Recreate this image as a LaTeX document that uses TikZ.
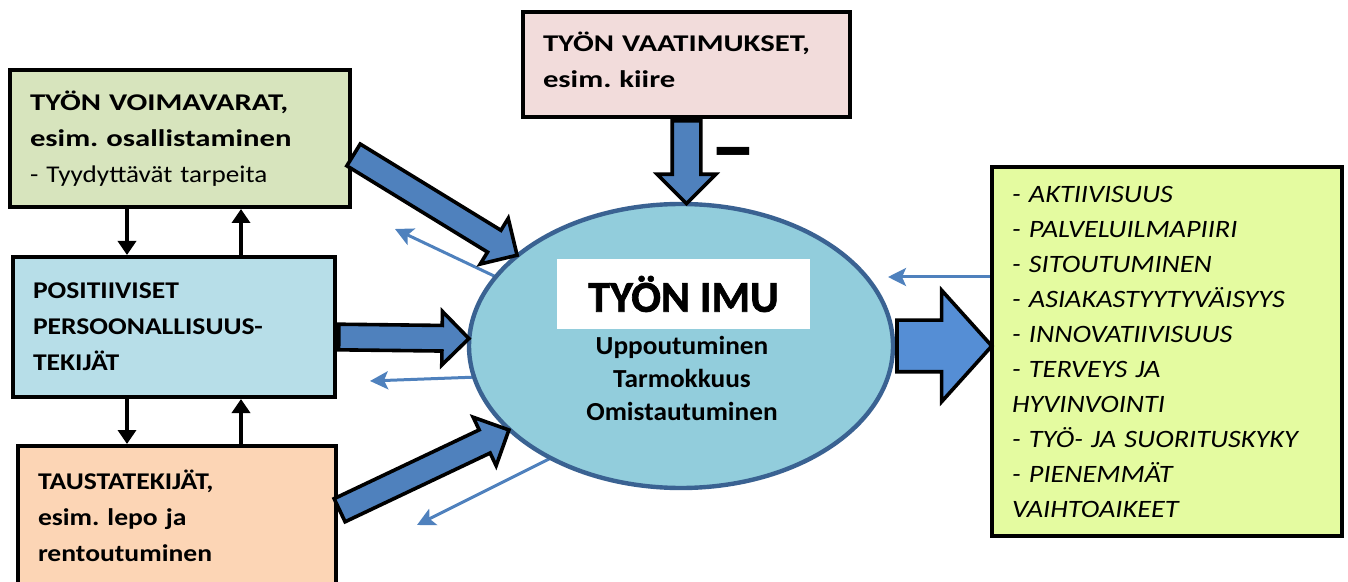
\documentclass[tikz,border=0pt]{standalone}
\usepackage{fontspec}
\setmainfont{Carlito}
\newfontfamily\boxfont[FakeStretch=1.28]{Carlito}
\newfontfamily\narrowfont[FakeStretch=1.15]{Carlito}
\newfontfamily\listfont[FakeStretch=1.13]{Carlito}
\newfontfamily\imutextfont[FakeStretch=1.05]{Carlito}
\newfontfamily\imufont[FakeBold=1.5]{Carlito Bold}
\usetikzlibrary{shapes.geometric,shapes.arrows,arrows.meta,calc}

\definecolor{voimagreen}{HTML}{D7E4BD}
\definecolor{vaatipink}{HTML}{F2DCDB}
\definecolor{persblue}{HTML}{B7DEE8}
\definecolor{taustaorange}{HTML}{FCD5B5}
\definecolor{tuloslime}{HTML}{E4FBA0}
\definecolor{imufill}{HTML}{92CDDC}
\definecolor{imuborder}{HTML}{3A6292}
\definecolor{arrowblue}{HTML}{4F81BD}
\definecolor{bigblue}{HTML}{558ED5}

\tikzset{
  box/.style={rectangle, draw=black, line width=2pt, inner xsep=10pt, align=left,
    font=\boxfont\fontsize{12}{18}\selectfont\bfseries\frenchspacing},
  narrowbox/.style={box, font=\narrowfont\fontsize{12}{18}\selectfont\bfseries\frenchspacing},
  fatarrow/.style={single arrow, draw=black, line width=1.8pt, fill=arrowblue, inner xsep=0pt,
    inner ysep=5.5pt, minimum width=0pt, single arrow head extend=7pt, single arrow tip angle=90},
  thinarrow/.style={draw=arrowblue, line width=1.5pt, -{Stealth[length=9pt,width=9pt,inset=2pt]}},
  boxarrow/.style={line width=2pt, -{Triangle[length=7pt,width=9pt]}}
}
\newcommand{\fatarrow}[3][]{%
  \path let \p1=($(#3)-(#2)$) in
    node[fatarrow,#1,anchor=tail,minimum height={veclen(\x1,\y1)},rotate={atan2(\y1,\x1)}] at (#2) {};}

\begin{document}
\begin{tikzpicture}[x=0.5pt, y=-0.5pt]
  \useasboundingbox (0,0) rectangle (1348,582);

  % boxes
  \node[box, fill=voimagreen, minimum width=170pt, minimum height=68.5pt, text width=150pt] (voima) at (180,138.5)
    {TYÖN VOIMAVARAT,\\ esim. osallistaminen\\ \listfont\mdseries - Tyydyttävät tarpeita};
  \node[box, fill=vaatipink, minimum width=163.5pt, minimum height=52.5pt, text width=143.5pt,
    text depth=23pt] (vaatimus) at (686.5,64.5)
    {TYÖN VAATIMUKSET,\\ esim. kiire};
  \node[narrowbox, fill=persblue, minimum width=161pt, minimum height=70pt, text width=141pt] (persoona) at (174,327)
    {POSITIIVISET\\ PERSOONALLISUUS-\\ TEKIJÄT};
  \node[narrowbox, fill=taustaorange, minimum width=159pt, minimum height=70pt, text width=139pt] (tausta) at (177,516)
    {TAUSTATEKIJÄT,\\ esim. lepo ja\\ rentoutuminen};
  \node[box, fill=tuloslime, font=\listfont\fontsize{12.5}{17.5}\selectfont\itshape, minimum width=175pt,
    minimum height=184.5pt, text width=155pt] (tulos) at (1167,351.5)
    {- AKTIIVISUUS\\ - PALVELUILMAPIIRI\\ - SITOUTUMINEN\\ - ASIAKASTYYTYVÄISYYS\\ - INNOVATIIVISUUS\\
     - TERVEYS JA\\ HYVINVOINTI\\ - TYÖ- JA SUORITUSKYKY\\ - PIENEMMÄT\\ VAIHTOAIKEET};

  % thin feedback arrows (under the ellipse)
  \coordinate (fb1) at (395,229);
  \coordinate (fb2) at (370,381);
  \coordinate (fb3) at (417,525);
  \coordinate (fb4) at (888,277);
  \coordinate (imua) at (681,346);
  \draw[thinarrow] ($(imua)!0.97!(495,277)$) -- (fb1);
  \draw[thinarrow] ($(imua)!0.97!(471,378)$) -- (fb2);
  \draw[thinarrow] ($(imua)!0.97!(552,459)$) -- (fb3);
  \draw[thinarrow] ([yshift=37.25pt]tulos.west) -- (fb4);

  % ellipse
  \node[ellipse, draw=imuborder, line width=2.2pt, fill=imufill, minimum width=212pt, minimum height=142pt] (imu) at (681,346) {};
  \node[fill=white, minimum width=126.5pt, minimum height=35pt, font=\imufont\fontsize{22}{26}\selectfont] (imutitle) at (683.5,294) {TYÖN IMU};
  \node[align=center, font=\imutextfont\bfseries\fontsize{13}{16.5}\selectfont] (imutext) at (682,378) {Uppoutuminen\\ Tarmokkuus\\ Omistautuminen};

  % fat arrows
  \coordinate (voimaout) at ([yshift=-7.75pt]voima.east);
  \coordinate (persout) at ([yshift=-5pt]persoona.east);
  \coordinate (taustaout) at ([yshift=2.5pt]tausta.east);
  \coordinate (imutop) at (vaatimus.south |- imu.north);
  \coordinate (tulosin) at (imu.east -| tulos.west);
  \fatarrow{voimaout}{imu.151}
  \fatarrow{persout}{imu.178}
  \fatarrow{taustaout}{imu.206}
  \fatarrow[inner ysep=6.25pt, single arrow head extend=7.5pt]{vaatimus.south}{imutop}
  \fatarrow[fill=bigblue, inner ysep=12pt, single arrow head extend=15pt, single arrow tip angle=96]{imu.east}{tulosin}
  \node[font=\bfseries\fontsize{46}{46}\selectfont] (minus) at (733,162) {–};

  % small arrows between the boxes
  \coordinate (dn) at (127,0);
  \coordinate (up) at (241,0);
  \draw[boxarrow] (voima.south -| dn) -- (persoona.north -| dn);
  \draw[boxarrow] (persoona.north -| up) -- (voima.south -| up);
  \draw[boxarrow] (persoona.south -| dn) -- (tausta.north -| dn);
  \draw[boxarrow] (tausta.north -| up) -- (persoona.south -| up);
\end{tikzpicture}
\end{document}
